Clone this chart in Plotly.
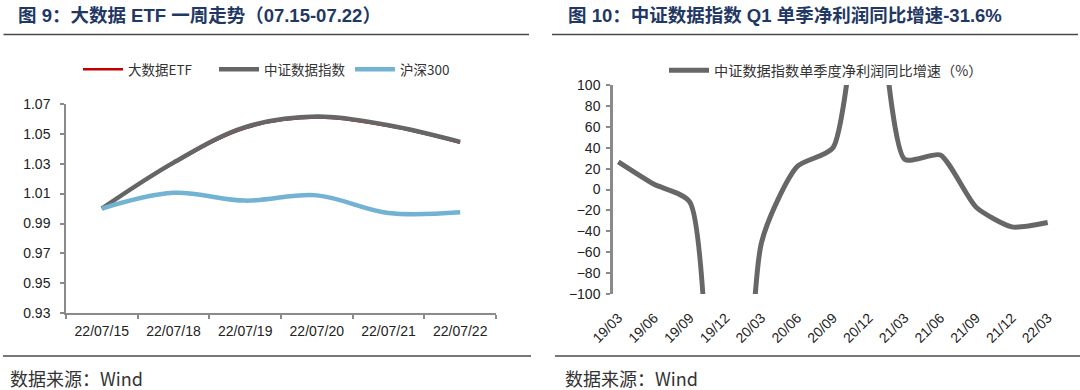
import plotly.graph_objects as go

# ---------------- data ----------------
dates_left = ["22/07/15", "22/07/18", "22/07/19", "22/07/20", "22/07/21", "22/07/22"]
etf_big_data = [1.000, 1.0302, 1.0537, 1.0608, 1.0551, 1.0440]
csi_data_index = [1.000, 1.0307, 1.0544, 1.0615, 1.0557, 1.0446]
hs300 = [1.000, 1.0105, 1.0053, 1.0088, 0.9970, 0.9975]

quarters = ["19/03", "19/06", "19/09", "19/12", "20/03", "20/06", "20/09",
            "20/12", "21/03", "21/06", "21/09", "21/12", "22/03"]
profit_growth = [26.5, 5.0, -12.0, -850.0, -51.0, 22.0, 40.0,
                 250.0, 29.0, 33.0, -17.0, -35.8, -31.6]

left_title = "图 9：大数据 ETF 一周走势（07.15-07.22）"
right_title = "图 10：中证数据指数 Q1 单季净利润同比增速-31.6%"
source_text = "数据来源：Wind"

# ---------------- layout helpers ----------------
W, H = 1080, 390
def px(x):
    return x / W
def py(y):
    return (H - y) / H

FONT = "Liberation Sans, Arial, Noto Sans CJK SC, sans-serif"
CJK = "Noto Sans CJK SC, Liberation Sans, sans-serif"
AXIS_C = "#8a8a8a"
TXT_C = "#222222"
TITLE_C = "#1f3864"

fig = go.Figure()

# left chart traces
fig.add_trace(go.Scatter(x=dates_left, y=etf_big_data, name="大数据ETF",
                         mode="lines", line=dict(color="#c00000", width=2.5, shape="spline"),
                         xaxis="x", yaxis="y", legend="legend"))
fig.add_trace(go.Scatter(x=dates_left, y=csi_data_index, name="中证数据指数",
                         mode="lines", line=dict(color="#666666", width=4.5, shape="spline"),
                         xaxis="x", yaxis="y", legend="legend"))
fig.add_trace(go.Scatter(x=dates_left, y=hs300, name="沪深300",
                         mode="lines", line=dict(color="#72b3d3", width=4.5, shape="spline"),
                         xaxis="x", yaxis="y", legend="legend"))

# right chart trace
fig.add_trace(go.Scatter(x=list(range(len(quarters))), y=profit_growth,
                         name="中证数据指数单季度净利润同比增速（%）",
                         mode="lines", line=dict(color="#676767", width=5, shape="spline",
                                                 smoothing=0.6),
                         xaxis="x2", yaxis="y2", legend="legend2"))

xr2 = [-0.148, 12.19]
zero_pos = py(294) + (py(85) - py(294)) * 0.5

fig.update_layout(
    width=W, height=H,
    margin=dict(l=0, r=0, t=0, b=0, pad=0, autoexpand=False),
    paper_bgcolor="white", plot_bgcolor="white",
    font=dict(family=FONT, size=14, color=TXT_C),
    xaxis=dict(domain=[px(66), px(496)], type="category", range=[-0.5, 5.5],
               showline=True, linecolor=AXIS_C, linewidth=1.5,
               ticks="outside", ticklen=4, tickcolor=AXIS_C, tickwidth=1.5,
               tickson="boundaries", showgrid=False, zeroline=False,
               tickfont=dict(size=14, color=TXT_C), ticklabelstandoff=4,
               anchor="y", automargin=False),
    yaxis=dict(domain=[py(313.3), py(103.8)], range=[0.93, 1.07], dtick=0.02,
               tick0=0.93, tickformat=".2f",
               showline=True, linecolor=AXIS_C, linewidth=1.5,
               ticks="outside", ticklen=4, tickcolor=AXIS_C, tickwidth=1.5,
               showgrid=False, zeroline=False,
               tickfont=dict(size=14, color=TXT_C), ticklabelstandoff=7,
               anchor="x", automargin=False),
    xaxis2=dict(domain=[px(613), px(1054.5)], range=xr2,
                tickmode="array", tickvals=list(range(len(quarters))), ticktext=quarters,
                tickangle=-45, showline=False, ticks="", showgrid=False, zeroline=False,
                tickfont=dict(size=14, color=TXT_C), ticklabelstandoff=12,
                anchor="y2", automargin=False),
    xaxis3=dict(overlaying="x2", range=xr2, anchor="free", position=zero_pos,
                showline=True, linecolor=AXIS_C, linewidth=2,
                ticks="outside", ticklen=4, tickcolor=AXIS_C, tickwidth=2,
                tickmode="linear", tick0=0.855, dtick=0.994,
                showticklabels=False, showgrid=False, zeroline=False,
                layer="below traces", automargin=False),
    yaxis2=dict(domain=[py(294), py(85)], range=[-100, 100], dtick=20,
                showline=True, linecolor=AXIS_C, linewidth=2.5,
                ticks="outside", ticklen=4, tickcolor=AXIS_C, tickwidth=2,
                showgrid=False, zeroline=False,
                tickfont=dict(size=14, color=TXT_C), ticklabelstandoff=3,
                anchor="x2", automargin=False),
    legend=dict(orientation="h", x=px(78), y=py(69.5), xanchor="left", yanchor="middle",
                font=dict(family=CJK, size=13.5, color="#333333"),
                bgcolor="rgba(0,0,0,0)", itemwidth=40, entrywidth=81),
    legend2=dict(orientation="h", x=px(664), y=py(70.6), xanchor="left", yanchor="middle",
                 font=dict(family=CJK, size=14.2, color="#333333"),
                 bgcolor="rgba(0,0,0,0)", itemwidth=40),
    showlegend=True,
)

# titles
fig.add_annotation(text="<b>" + left_title + "</b>", x=px(16), y=py(16), xref="paper", yref="paper",
                   xanchor="left", yanchor="middle", showarrow=False,
                   font=dict(family=FONT, size=18.5, color=TITLE_C))
fig.add_annotation(text="<b>" + right_title + "</b>", x=px(566), y=py(16), xref="paper", yref="paper",
                   xanchor="left", yanchor="middle", showarrow=False,
                   font=dict(family=FONT, size=18.5, color=TITLE_C))
# sources
for sx in (8, 563):
    fig.add_annotation(text=source_text, x=px(sx), y=py(378), xref="paper", yref="paper",
                       xanchor="left", yanchor="middle", showarrow=False,
                       font=dict(family=CJK, size=18, color="#333333"))

# rules
for (x0, x1, y) in [(3.5, 529, 34.6), (552, 1078, 34.6), (3, 531, 356), (555, 1080, 356)]:
    fig.add_shape(type="line", xref="paper", yref="paper", x0=px(x0), x1=px(x1),
                  y0=py(y), y1=py(y), line=dict(color="#4a4a4a", width=1.5))

fig.write_html("out.html",
               config={"displayModeBar": False},
               post_script="document.body.style.margin='0';document.body.style.padding='0';"
                           "document.body.style.overflow='hidden';")
